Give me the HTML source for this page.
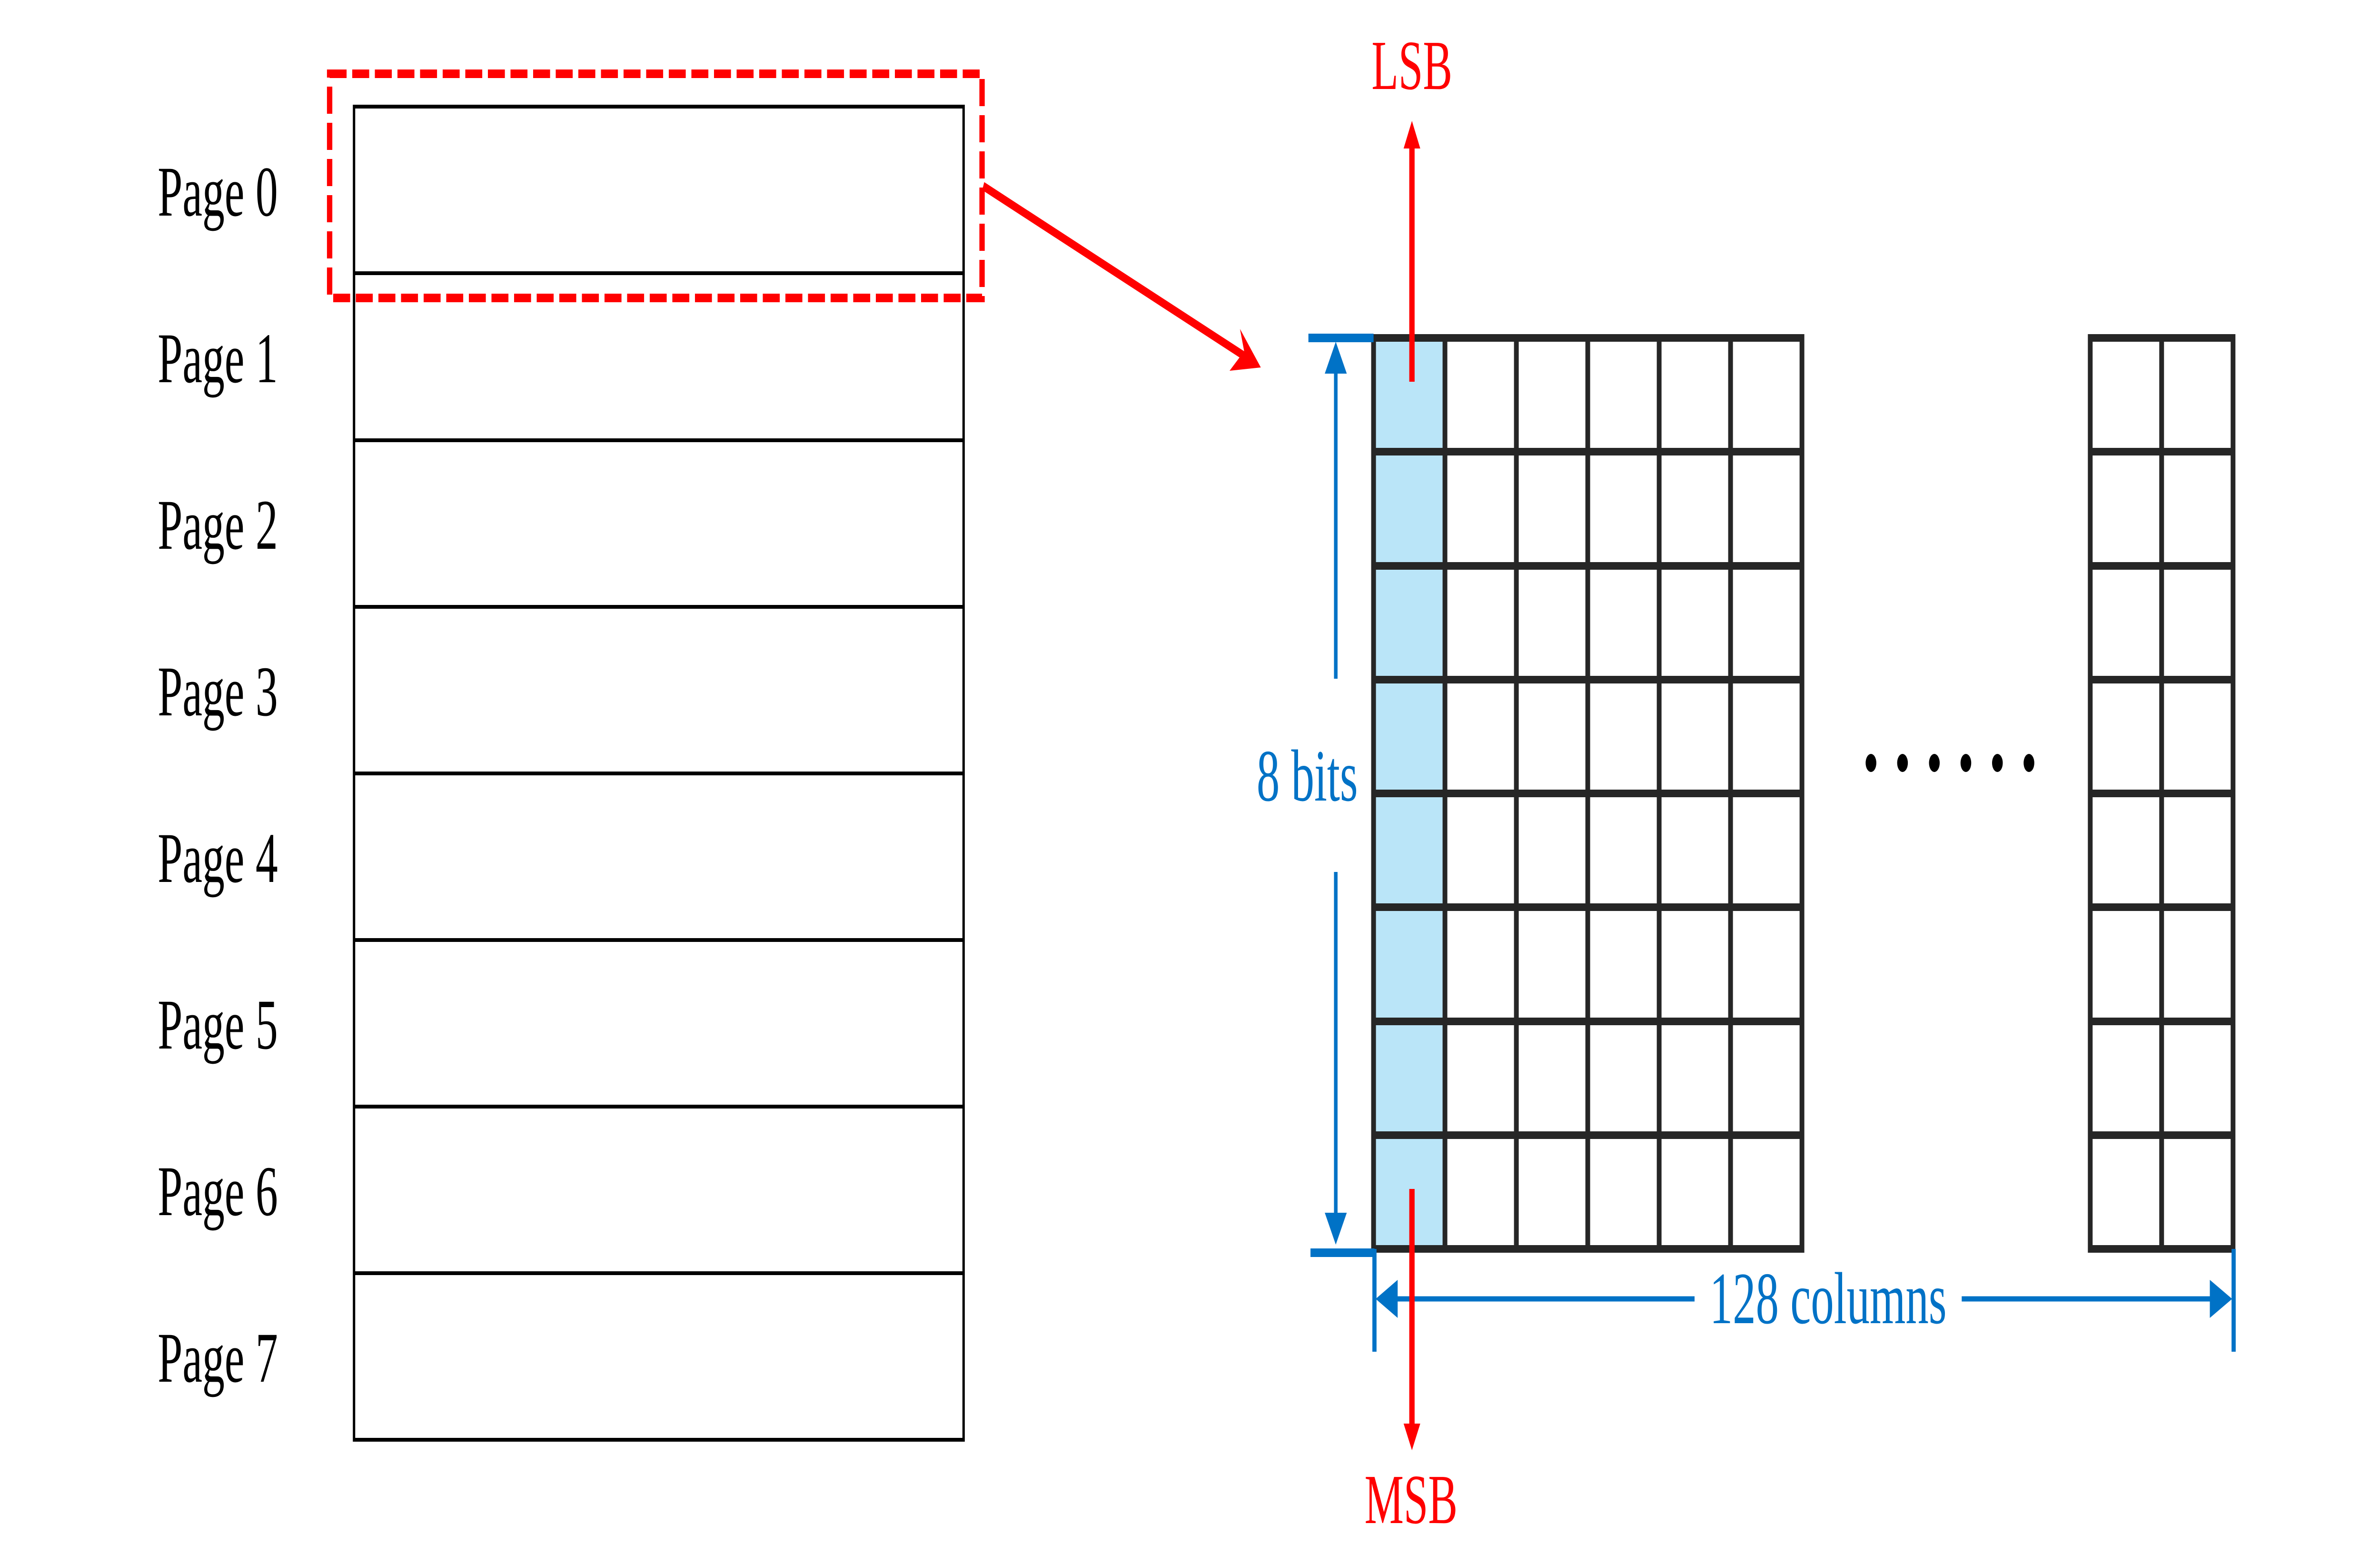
<!DOCTYPE html>
<html><head><meta charset="utf-8"><style>html,body{margin:0;padding:0;background:#fff;width:100%;height:100%;overflow:hidden}svg{display:block;width:100vw;height:100vh}</style></head>
<body>
<svg viewBox="0 0 8000 3265" preserveAspectRatio="none" xmlns="http://www.w3.org/2000/svg">
<g fill="none" stroke="#000" stroke-width="8">
<rect x="1190" y="224" width="2049" height="2801"/>
<line x1="1190" y1="574" x2="3239" y2="574"/>
<line x1="1190" y1="925" x2="3239" y2="925"/>
<line x1="1190" y1="1275" x2="3239" y2="1275"/>
<line x1="1190" y1="1625" x2="3239" y2="1625"/>
<line x1="1190" y1="1975" x2="3239" y2="1975"/>
<line x1="1190" y1="2325" x2="3239" y2="2325"/>
<line x1="1190" y1="2675" x2="3239" y2="2675"/>
</g>
<g font-family="Liberation Serif, serif" font-size="150" fill="#000">
<text x="530" y="453">Page 0</text>
<text x="530" y="803">Page 1</text>
<text x="530" y="1153">Page 2</text>
<text x="530" y="1503">Page 3</text>
<text x="530" y="1853">Page 4</text>
<text x="530" y="2203">Page 5</text>
<text x="530" y="2553">Page 6</text>
<text x="530" y="2903">Page 7</text>
</g>
<rect x="1108" y="155" width="2193" height="471" fill="none" stroke="#f00" stroke-width="18" stroke-dasharray="57 19"/>
<line x1="3305" y1="391" x2="4200" y2="755" stroke="#f00" stroke-width="18"/>
<polygon points="4238,772 4133,779 4182,738 4168,691" fill="#f00"/>
<rect x="4617" y="710" width="240" height="1914" fill="#bae5f8"/>
<g stroke="#262626" stroke-width="16" fill="none">
<rect x="4617" y="710" width="1440" height="1914"/>
<line x1="4857" y1="710" x2="4857" y2="2624"/>
<line x1="5097" y1="710" x2="5097" y2="2624"/>
<line x1="5337" y1="710" x2="5337" y2="2624"/>
<line x1="5577" y1="710" x2="5577" y2="2624"/>
<line x1="5817" y1="710" x2="5817" y2="2624"/>
<rect x="7026" y="710" width="480" height="1914"/>
<line x1="7266" y1="710" x2="7266" y2="2624"/>
<line x1="4617" y1="949" x2="6057" y2="949"/><line x1="7026" y1="949" x2="7506" y2="949"/>
<line x1="4617" y1="1189" x2="6057" y2="1189"/><line x1="7026" y1="1189" x2="7506" y2="1189"/>
<line x1="4617" y1="1428" x2="6057" y2="1428"/><line x1="7026" y1="1428" x2="7506" y2="1428"/>
<line x1="4617" y1="1667" x2="6057" y2="1667"/><line x1="7026" y1="1667" x2="7506" y2="1667"/>
<line x1="4617" y1="1906" x2="6057" y2="1906"/><line x1="7026" y1="1906" x2="7506" y2="1906"/>
<line x1="4617" y1="2146" x2="6057" y2="2146"/><line x1="7026" y1="2146" x2="7506" y2="2146"/>
<line x1="4617" y1="2385" x2="6057" y2="2385"/><line x1="7026" y1="2385" x2="7506" y2="2385"/>
</g>
<g fill="#000">
<ellipse cx="6289" cy="1603" rx="18" ry="19"/><ellipse cx="6395" cy="1603" rx="18" ry="19"/>
<ellipse cx="6502" cy="1603" rx="18" ry="19"/><ellipse cx="6608" cy="1603" rx="18" ry="19"/>
<ellipse cx="6714" cy="1603" rx="18" ry="19"/><ellipse cx="6820" cy="1603" rx="18" ry="19"/>
</g>
<g stroke="#0072c6" fill="none">
<line x1="4398" y1="710" x2="4617" y2="710" stroke-width="18"/>
<line x1="4405" y1="2632" x2="4620" y2="2632" stroke-width="18"/>
<line x1="4490" y1="780" x2="4490" y2="1426" stroke-width="12"/>
<line x1="4490" y1="1832" x2="4490" y2="2550" stroke-width="12"/>
<line x1="4620" y1="2624" x2="4620" y2="2840" stroke-width="14"/>
<line x1="7508" y1="2624" x2="7508" y2="2840" stroke-width="14"/>
<line x1="4695" y1="2729" x2="5696" y2="2729" stroke-width="11"/>
<line x1="6594" y1="2729" x2="7430" y2="2729" stroke-width="11"/>
</g>
<g fill="#0072c6">
<polygon points="4490,718 4527,785 4453,785"/>
<polygon points="4490,2615 4527,2548 4453,2548"/>
<polygon points="4624,2729 4698,2689 4698,2769"/>
<polygon points="7503,2729 7428,2689 7428,2769"/>
</g>
<g font-family="Liberation Serif, serif" font-size="155" fill="#0072c6">
<text x="4224" y="1682">8 bits</text>
<text x="6145" y="2780" text-anchor="middle">128 columns</text>
</g>
<line x1="4746" y1="802" x2="4746" y2="300" stroke="#f00" stroke-width="18"/>
<polygon points="4746,254 4774,312 4718,312" fill="#f00"/>
<line x1="4746" y1="2498" x2="4746" y2="2995" stroke="#f00" stroke-width="18"/>
<polygon points="4746,3047 4774,2991 4718,2991" fill="#f00"/>
<g font-family="Liberation Serif, serif" font-size="148" fill="#f00" text-anchor="middle">
<text x="4746" y="187">LSB</text>
<text x="4743" y="3200">MSB</text>
</g>
</svg>
</body></html>
